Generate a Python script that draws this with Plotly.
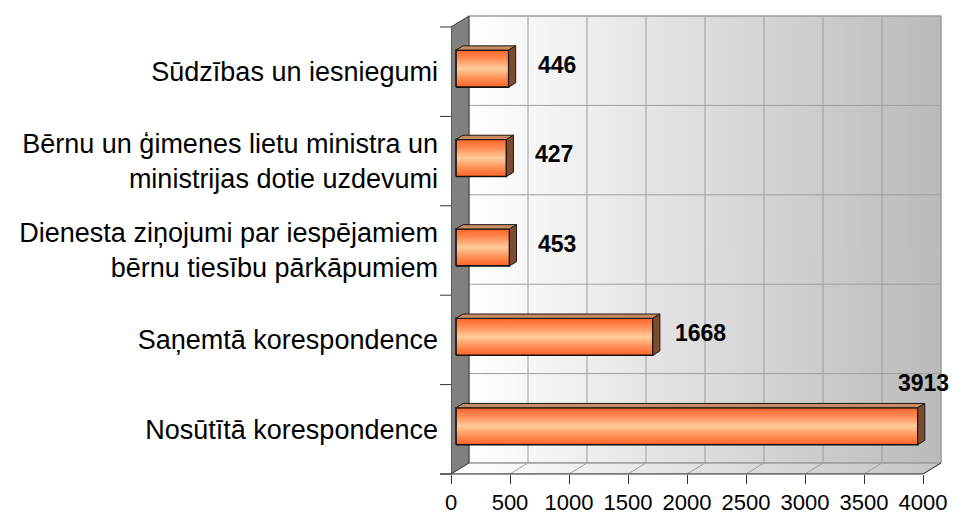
import plotly.graph_objects as go

# ---------------- data ----------------
categories = [
    "Nosūtītā korespondence",
    "Saņemtā korespondence",
    "Dienesta ziņojumi par iespējamiem<br>bērnu tiesību pārkāpumiem",
    "Bērnu un ģimenes lietu ministra un<br>ministrijas dotie uzdevumi",
    "Sūdzības un iesniegumi",
]
values = [3913, 1668, 453, 427, 446]
x_ticks = [0, 500, 1000, 1500, 2000, 2500, 3000, 3500, 4000]

# ---------------- geometry (pixels) ----------------
W, H = 971, 512
PL, PR, PT, PB = 451, 945, 10, 474          # plot area in pixels
AX_MAX = x_ticks[-1]
PX_X = 472 / AX_MAX                          # px per x unit
PX_Y = 89.4                                  # px per category band
x_range = [0, (PR - PL) / PX_X]
y_range = [-0.5, -0.5 + (PB - PT) / PX_Y]
DX = 18 / PX_X                               # 3-D depth in x units
DY = 11 / PX_Y                               # 3-D depth in y units
F0, F1 = 0.28, 0.67                          # bar front/back depth fractions
BAR_H = 37 / PX_Y
n = len(categories)
ypos = list(range(n))
lo, hi = -0.5, n - 0.5


def px2paper_x(p):
    return (p - PL) / (PR - PL)


fig = go.Figure()

# back wall with horizontal gradient
fig.add_trace(go.Scatter(
    x=[DX, AX_MAX + DX, AX_MAX + DX, DX, DX],
    y=[lo + DY, lo + DY, hi + DY, hi + DY, lo + DY],
    mode="lines", fill="toself",
    fillgradient=dict(type="horizontal",
                      colorscale=[[0, "#ffffff"], [1, "#bababa"]]),
    line=dict(color="#9a9a9a", width=1),
    hoverinfo="skip", showlegend=False))

# floor
fig.add_trace(go.Scatter(
    x=[0, AX_MAX, AX_MAX + DX, DX, 0],
    y=[lo, lo, lo + DY, lo + DY, lo],
    mode="lines", fill="toself",
    fillgradient=dict(type="horizontal",
                      colorscale=[[0, "#ffffff"], [1, "#c4c4c4"]]),
    line=dict(color="#9a9a9a", width=1),
    hoverinfo="skip", showlegend=False))

# grid lines on wall and floor
gx, gy = [], []
for v in x_ticks[1:-1]:
    gx += [v + DX, v + DX, None, v, v + DX, None]
    gy += [lo + DY, hi + DY, None, lo, lo + DY, None]
for b in range(n + 1):
    yb = lo + b + DY
    gx += [DX, AX_MAX + DX, None]
    gy += [yb, yb, None]
gx += [AX_MAX + DX, AX_MAX + DX, None]
gy += [lo + DY, hi + DY, None]
fig.add_trace(go.Scatter(x=gx, y=gy, mode="lines",
                         line=dict(color="#9e9e9e", width=1),
                         hoverinfo="skip", showlegend=False))

# left side wall
fig.add_trace(go.Scatter(
    x=[0, 0, DX, DX, 0],
    y=[lo, hi, hi + DY, lo + DY, lo],
    mode="lines", fill="toself", fillcolor="#808080",
    line=dict(color="#3a3a3a", width=1),
    hoverinfo="skip", showlegend=False))

# bars: front face (vertical gradient), top face, side face
bar_y = [c + F0 * DY for c in ypos]
base = F0 * DX
ddx = (F1 - F0) * DX
ddy = (F1 - F0) * DY
bar_scale = [[0, "#ff6428"], [0.22, "#ff8a52"], [0.5, "#ffcc9a"],
             [0.78, "#ff8a52"], [1, "#ff6428"]]
tx, ty, sx, sy = [], [], [], []
for v, yc in zip(values, bar_y):
    x0, x1 = base, base + v
    y0, y1 = yc - BAR_H / 2, yc + BAR_H / 2
    fig.add_trace(go.Scatter(
        x=[x0, x1, x1, x0, x0], y=[y0, y0, y1, y1, y0],
        mode="lines", fill="toself",
        fillgradient=dict(type="vertical", colorscale=bar_scale),
        line=dict(color="#111111", width=1.6),
        hoverinfo="skip", showlegend=False))
    tx += [x0, x1, x1 + ddx, x0 + ddx, x0, None]
    ty += [y1, y1, y1 + ddy, y1 + ddy, y1, None]
    sx += [x1, x1 + ddx, x1 + ddx, x1, x1, None]
    sy += [y0, y0 + ddy, y1 + ddy, y1, y0, None]
fig.add_trace(go.Scatter(x=tx, y=ty, mode="lines", fill="toself",
                         fillcolor="#c98b62", line=dict(color="#1a1a1a", width=1),
                         hoverinfo="skip", showlegend=False))
fig.add_trace(go.Scatter(x=sx, y=sy, mode="lines", fill="toself",
                         fillcolor="#7e4b2e", line=dict(color="#1a1a1a", width=1),
                         hoverinfo="skip", showlegend=False))

# value labels
annotations = []
for v, c in zip(values, ypos):
    end_px = PL + (base + v) * PX_X
    if end_px + 48 + 24 > PR:
        xs, ys = 6, 46
    else:
        xs, ys = 48, 7
    annotations.append(dict(
        x=base + v, y=c, xref="x", yref="y", text="<b>%d</b>" % v,
        showarrow=False, xanchor="center", yanchor="middle",
        xshift=xs, yshift=ys,
        font=dict(family="Liberation Sans, Arial, sans-serif", size=23, color="#000000")))

# axis lines and category boundary ticks
shapes = []
shapes.append(dict(type="line", xref="paper", yref="paper",
                   x0=px2paper_x(440), x1=AX_MAX / x_range[1], y0=0, y1=0,
                   line=dict(color="#333333", width=1)))
shapes.append(dict(type="line", xref="x", yref="y",
                   x0=AX_MAX, x1=AX_MAX + DX, y0=lo, y1=lo + DY,
                   line=dict(color="#333333", width=1)))
for b in range(n + 1):
    yp = b / (y_range[1] - y_range[0])
    shapes.append(dict(type="line", xref="paper", yref="paper",
                       x0=px2paper_x(440), x1=0, y0=yp, y1=yp,
                       line=dict(color="#333333", width=1)))

fig.update_layout(
    width=W, height=H,
    margin=dict(l=PL, r=W - PR, t=PT, b=H - PB, autoexpand=False),
    paper_bgcolor="white", plot_bgcolor="white",
    hovermode=False, showlegend=False,
    font=dict(family="Liberation Sans, Arial, sans-serif", color="#000000"),
    xaxis=dict(range=x_range, tickvals=x_ticks, ticktext=[str(t) for t in x_ticks],
               ticks="outside", ticklen=9, tickcolor="#333333", tickwidth=1,
               showgrid=False, zeroline=False, showline=False,
               tickfont=dict(size=22), ticklabelstandoff=0,
               automargin=False, fixedrange=True),
    yaxis=dict(range=y_range, tickvals=ypos, ticktext=categories,
               ticks="", showgrid=False, zeroline=False, showline=False,
               tickfont=dict(size=27), ticklabelstandoff=12,
               automargin=False, fixedrange=True),
    annotations=annotations, shapes=shapes,
)

fig.write_html("out.html", config={"displayModeBar": False},
               post_script="document.body.style.margin='0';document.body.style.padding='0';")
